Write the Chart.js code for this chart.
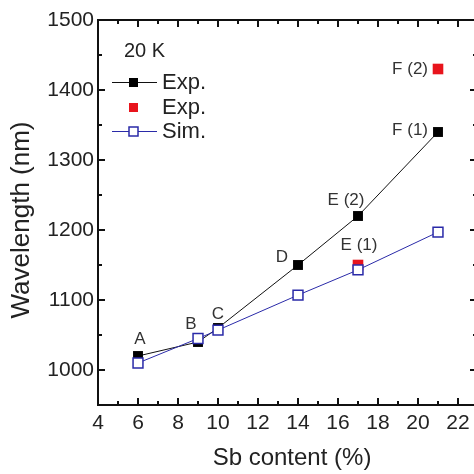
<!DOCTYPE html>
<html>
<head>
<meta charset="utf-8">
<script src="https://cdn.jsdelivr.net/npm/chart.js@4/dist/chart.umd.min.js"></script>
<style>
  html, body { margin: 0; padding: 0; background: #fff; overflow: hidden; }
  canvas { display: block; }
</style>
</head>
<body>
<canvas id="chart" width="474" height="474" style="width:474px;height:474px"></canvas>
<script>
// data
const sbContent = [6, 9, 10, 14, 17, 21];
const expWavelength = [1020, 1040, 1060, 1150, 1220, 1340];
const expNames = ['A', 'B', 'C', 'D', 'E (2)', 'F (1)'];
const exp2Sb = [17, 21];
const exp2Wavelength = [1150, 1430];
const exp2Names = ['E (1)', 'F (2)'];
const simWavelength = [1010, 1045, 1057, 1107, 1143, 1197];
const xTickValues = [4, 6, 8, 10, 12, 14, 16, 18, 20, 22];
const yTickValues = [1000, 1100, 1200, 1300, 1400, 1500];

const FONT = 'Arial, "Liberation Sans", Helvetica, sans-serif';
const TEXT = '#222';
const BLUE = '#2a2aa8';

function toPoints(xs, ys) {
    return xs.map((x, i) => ({ x: x, y: ys[i] }));
}

// label offsets (px) for point names, [dx, dy, align]
const expLabelOffsets = [[2, -17, 'center'], [-7, -18, 'center'], [0, -14, 'center'],
    [-16, -8, 'center'], [-12, -16, 'center'], [-10, -2, 'right']];
const exp2LabelOffsets = [[1, -20, 'center'], [-10, 0, 'right']];

const framePlugin = {
    id: 'frame',
    afterDraw(chart) {
        const ctx = chart.ctx;
        const area = chart.chartArea;
        const xs = chart.scales.x;
        const ys = chart.scales.y;
        ctx.save();
        ctx.strokeStyle = '#111';
        ctx.lineWidth = 2;
        // the right-hand axis line lies just past the picture edge
        ctx.beginPath();
        ctx.moveTo(area.right, area.top);
        ctx.lineTo(area.left, area.top);
        ctx.lineTo(area.left, area.bottom);
        ctx.lineTo(area.right, area.bottom);
        ctx.stroke();

        ctx.beginPath();
        // majors at tick values, minors halfway
        for (let v = xs.min; v <= xs.max; v += 1) {
            const len = xTickValues.includes(v) ? 7 : 4;
            const px = Math.round(xs.getPixelForValue(v));
            ctx.moveTo(px, area.bottom); ctx.lineTo(px, area.bottom - len);
            ctx.moveTo(px, area.top); ctx.lineTo(px, area.top + len);
        }
        const rightEdge = xs.getPixelForValue(23);
        for (let v = 1000; v <= ys.max; v += 50) {
            const len = yTickValues.includes(v) ? 7 : 4;
            const py = Math.round(ys.getPixelForValue(v));
            ctx.moveTo(area.left, py); ctx.lineTo(area.left + len, py);
            ctx.moveTo(rightEdge, py); ctx.lineTo(rightEdge - len - 1, py);
        }
        ctx.stroke();

        // axis titles
        ctx.fillStyle = TEXT;
        ctx.textAlign = 'center';
        ctx.textBaseline = 'middle';
        ctx.font = '24px ' + FONT;
        ctx.fillText('Sb content (%)', 292, 458);
        ctx.save();
        ctx.translate(22, 220);
        ctx.rotate(-Math.PI / 2);
        ctx.font = '26px ' + FONT;
        ctx.fillText('Wavelength (nm)', 0, 0);
        ctx.restore();

        // point names
        ctx.fillStyle = '#333';
        ctx.font = '17px ' + FONT;
        const drawNames = (dsIndex, names, offsets) => {
            const meta = chart.getDatasetMeta(dsIndex);
            meta.data.forEach((el, i) => {
                const o = offsets[i];
                ctx.textAlign = o[2];
                ctx.fillText(names[i], el.x + o[0], el.y + o[1]);
            });
        };
        drawNames(0, expNames, expLabelOffsets);
        drawNames(1, exp2Names, exp2LabelOffsets);

        // legend
        ctx.fillStyle = TEXT;
        ctx.textAlign = 'left';
        ctx.font = '20px ' + FONT;
        ctx.fillText('20 K', 124, 51);
        ctx.font = '22px ' + FONT;
        const rows = [
            { y: 82, line: '#111', fill: '#000', stroke: '#000', text: 'Exp.' },
            { y: 107, line: null, fill: '#e8141c', stroke: '#e8141c', text: 'Exp.' },
            { y: 131, line: BLUE, fill: '#fff', stroke: BLUE, text: 'Sim.' }
        ];
        rows.forEach(r => {
            if (r.line) {
                ctx.strokeStyle = r.line;
                ctx.lineWidth = 1;
                ctx.beginPath();
                ctx.moveTo(112, r.y + 0.5); ctx.lineTo(157, r.y + 0.5);
                ctx.stroke();
            }
            ctx.fillStyle = r.fill;
            ctx.fillRect(129, r.y - 4, 9, 9);
            if (r.fill === '#fff') {
                ctx.strokeStyle = r.stroke;
                ctx.lineWidth = 1.5;
                ctx.strokeRect(129, r.y - 4, 9, 9);
            }
            ctx.fillStyle = TEXT;
            ctx.fillText(r.text, 162, r.y + 1);
        });
        ctx.restore();
    }
};

new Chart(document.getElementById('chart'), {
    type: 'scatter',
    data: {
        datasets: [
            {
                label: 'Exp.',
                data: toPoints(sbContent, expWavelength),
                showLine: true,
                borderColor: '#111',
                borderWidth: 1,
                backgroundColor: '#000',
                pointStyle: 'rect',
                pointRadius: 7,
                pointBorderWidth: 0,
                order: 2
            },
            {
                label: 'Exp.',
                data: toPoints(exp2Sb, exp2Wavelength),
                showLine: false,
                backgroundColor: '#e8141c',
                borderColor: '#e8141c',
                pointStyle: 'rect',
                pointRadius: 7.5,
                pointBorderWidth: 0,
                order: 1
            },
            {
                label: 'Sim.',
                data: toPoints(sbContent, simWavelength),
                showLine: true,
                borderColor: BLUE,
                borderWidth: 1,
                backgroundColor: '#fff',
                pointBackgroundColor: '#fff',
                pointBorderColor: BLUE,
                pointBorderWidth: 1.5,
                pointStyle: 'rect',
                pointRadius: 7,
                order: 0
            }
        ]
    },
    options: {
        responsive: false,
        animation: false,
        layout: { autoPadding: false, padding: { top: 20, right: 0, left: 0, bottom: 0 } },
        plugins: {
            legend: { display: false },
            tooltip: { enabled: false }
        },
        scales: {
            x: {
                type: 'linear',
                min: 4,
                max: 22.8,
                afterBuildTicks: scale => {
                    scale.ticks = xTickValues.map(v => ({ value: v }));
                },
                afterFit: scale => {
                    scale.height = 69;
                    scale.paddingLeft = 0;
                    scale.paddingRight = 0;
                },
                grid: { display: false, drawTicks: false },
                border: { display: false },
                ticks: {
                    color: TEXT,
                    padding: 6,
                    maxRotation: 0,
                    font: { family: FONT, size: 21 }
                }
            },
            y: {
                type: 'linear',
                min: 950,
                max: 1500,
                afterBuildTicks: scale => {
                    scale.ticks = yTickValues.map(v => ({ value: v }));
                },
                afterFit: scale => { scale.width = 98; },
                grid: { display: false, drawTicks: false },
                border: { display: false },
                ticks: {
                    color: TEXT,
                    padding: 4,
                    callback: v => String(v),
                    font: { family: FONT, size: 21 }
                }
            }
        }
    },
    plugins: [framePlugin]
});
</script>
</body>
</html>
